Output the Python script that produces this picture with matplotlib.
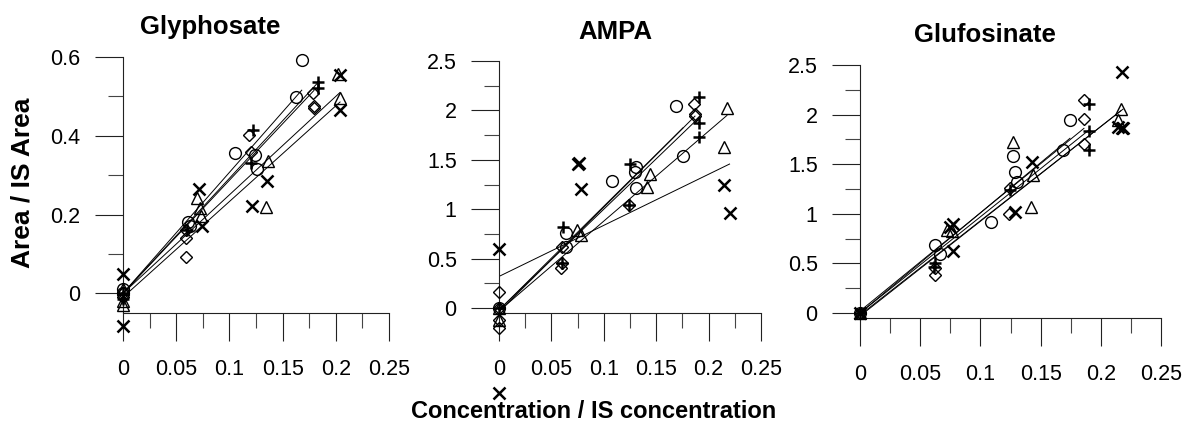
import numpy as np
import matplotlib
matplotlib.use("Agg")
import matplotlib.pyplot as plt
from matplotlib.ticker import MultipleLocator, FuncFormatter

plt.rcParams['font.family'] = ['Liberation Sans', 'DejaVu Sans']

# marker order used by every panel: circle, diamond, triangle, plus, cross
MARKERS = ['o', 'D', '^', '+', 'x']
TITLES = ['Glyphosate', 'AMPA', 'Glufosinate']

# --- Glyphosate ---
GLY_X = [
    [0, 0, 0.061, 0.063, 0.105, 0.124, 0.1257, 0.163, 0.168],
    [0, 0, 0.059, 0.059, 0.059, 0.118, 0.12, 0.179, 0.1795, 0.1795],
    [0, 0, 0, 0.0698, 0.072, 0.073, 0.1366, 0.1344, 0.2016, 0.204],
    [0, 0, 0.06, 0.1225, 0.12, 0.1836, 0.1836],
    [0, 0, 0.0717, 0.074, 0.121, 0.135, 0.204, 0.204],
]
GLY_Y = [
    [0, 0.01, 0.18, 0.17, 0.356, 0.352, 0.316, 0.498, 0.592],
    [0, -0.01, 0.162, 0.141, 0.092, 0.403, 0.36, 0.508, 0.475, 0.47],
    [-0.03, -0.02, 0.01, 0.242, 0.217, 0.196, 0.335, 0.219, 0.558, 0.495],
    [0, -0.015, 0.16, 0.415, 0.33, 0.537, 0.521],
    [0.048, -0.083, 0.265, 0.17, 0.221, 0.284, 0.554, 0.466],
]
GLY_SLOPE = [3.07, 2.87, 2.5, 2.92, 2.43]
GLY_INTERCEPT = [0.0, 0.0, 0.0, 0.0, -0.01]

# --- AMPA ---
AMPA_X = [
    [0, 0.0638, 0.064, 0.108, 0.131, 0.13, 0.1305, 0.169, 0.1756],
    [0, 0, 0, 0, 0.06, 0.06, 0.059, 0.124, 0.186, 0.187, 0.187],
    [0, 0, 0.074, 0.0778, 0.1438, 0.1413, 0.2175, 0.215],
    [0, 0.0613, 0.06, 0.1254, 0.124, 0.191, 0.191, 0.191],
    [0, 0, 0.0756, 0.0766, 0.0787, 0.215, 0.22],
]
AMPA_Y = [
    [0, 0.756, 0.62, 1.29, 1.43, 1.38, 1.21, 2.04, 1.54],
    [0.165, -0.12, -0.2, 0, 0.62, 0.46, 0.41, 1.04, 2.06, 1.96, 1.94],
    [-0.12, 0, 0.79, 0.74, 1.36, 1.23, 2.02, 1.63],
    [0, 0.82, 0.46, 1.46, 1.04, 2.14, 1.87, 1.73],
    [0.6, -0.86, 1.46, 1.47, 1.2, 1.25, 0.96],
]
AMPA_SLOPE = [10.5, 10.6, 9.1, 10.2, 5.17]
AMPA_INTERCEPT = [-0.02, -0.04, -0.03, -0.02, 0.32]

# --- Glufosinate ---
GLU_X = [
    [0, 0.0623, 0.0664, 0.1085, 0.1274, 0.1287, 0.130, 0.1689, 0.1744],
    [0, 0.0623, 0.062, 0.1246, 0.124, 0.186, 0.186, 0.186],
    [0, 0.072, 0.076, 0.1268, 0.144, 0.1418, 0.2166, 0.2145],
    [0, 0.0623, 0.0617, 0.1246, 0.1905, 0.1905, 0.1905],
    [0, 0.0775, 0.075, 0.077, 0.1426, 0.129, 0.2173, 0.2145, 0.2185, 0.2175],
]
GLU_Y = [
    [0, 0.685, 0.60, 0.92, 1.58, 1.42, 1.32, 1.64, 1.945],
    [0, 0.383, 0.45, 1.26, 1.0, 2.15, 1.96, 1.70],
    [0, 0.84, 0.83, 1.72, 1.39, 1.065, 2.06, 1.95],
    [0, 0.50, 0.46, 1.24, 2.11, 1.83, 1.64],
    [0, 0.897, 0.87, 0.628, 1.525, 1.02, 2.43, 1.88, 1.87, 1.86],
]
GLU_SLOPE = [10.1, 9.9, 9.55, 9.7, 9.5]
GLU_INTERCEPT = [0.0, 0.02, -0.03, 0.0, -0.02]

W, H = 1185, 433


def _fig_rect(left_px, right_px, top_px, bottom_px):
    """Convert pixel box to figure fraction rect"""
    return [left_px / W, 1 - bottom_px / H, (right_px - left_px) / W, (bottom_px - top_px) / H]


def _style_axis(ax, ylim, y_major, y_minor):
    """Detached-looking axes with long outward ticks"""
    ax.set_xlim(0, 0.25)
    ax.set_ylim(*ylim)
    for side in ['top', 'right']:
        ax.spines[side].set_visible(False)
    for side in ['left', 'bottom']:
        ax.spines[side].set_linewidth(0.8)
        ax.spines[side].set_color('#222222')
    ax.xaxis.set_major_locator(MultipleLocator(0.05))
    ax.xaxis.set_minor_locator(MultipleLocator(0.025))
    ax.yaxis.set_major_locator(MultipleLocator(y_major))
    ax.yaxis.set_minor_locator(MultipleLocator(y_minor))
    fmt = FuncFormatter(lambda v, pos: f"{v:g}")
    ax.xaxis.set_major_formatter(fmt)
    ax.yaxis.set_major_formatter(fmt)
    ax.tick_params(which='major', direction='out', length=20, width=0.8, color='#222222', labelsize=15.5)
    ax.tick_params(which='minor', direction='out', length=11, width=0.8, color='#444444')
    ax.tick_params(axis='x', which='major', pad=13)
    ax.tick_params(axis='y', which='major', pad=10.5)


def _plot_panel(ax, xs, ys, slopes, intercepts):
    """Scatter every series and its calibration line"""
    for marker, x, y, b, a in zip(MARKERS, xs, ys, slopes, intercepts):
        x = np.asarray(x)
        y = np.asarray(y)
        thick = marker in ('+', 'x')
        size = {'o': 8.5, 'D': 6, '^': 8.5, '+': 9, 'x': 8}[marker]
        ax.plot(x, y, linestyle='none', marker=marker, markersize=size,
                markerfacecolor='none', markeredgecolor='black',
                markeredgewidth=1.8 if thick else 1.0, clip_on=False, zorder=3)
        xl = np.array([0, x.max()])
        ax.plot(xl, a + b * xl, color='black', linewidth=0.7, zorder=2)


fig = plt.figure(figsize=(W / 100, H / 100), dpi=100)

ax1 = fig.add_axes(_fig_rect(123, 389, 57, 313))
ax2 = fig.add_axes(_fig_rect(499, 761, 61, 313))
ax3 = fig.add_axes(_fig_rect(860, 1161, 65, 318))

_style_axis(ax1, (-0.05, 0.6), 0.2, 0.1)
_style_axis(ax2, (-0.05, 2.5), 0.5, 0.25)
_style_axis(ax3, (-0.05, 2.5), 0.5, 0.25)

_plot_panel(ax1, GLY_X, GLY_Y, GLY_SLOPE, GLY_INTERCEPT)
_plot_panel(ax2, AMPA_X, AMPA_Y, AMPA_SLOPE, AMPA_INTERCEPT)
_plot_panel(ax3, GLU_X, GLU_Y, GLU_SLOPE, GLU_INTERCEPT)

# titles sit left of each axes centre, as in the original layout
for title, (cx, cy) in zip(TITLES, [(210, 27), (615, 32), (985, 35)]):
    fig.text(cx / W, 1 - cy / H, title, ha='center', va='center',
             fontsize=18.5, fontweight='bold')

fig.text(23 / W, 1 - 183 / H, 'Area / IS Area', rotation=90, ha='center', va='center',
         fontsize=19, fontweight='bold')
fig.text(594 / W, 1 - 412 / H, 'Concentration / IS concentration', ha='center', va='center',
         fontsize=17, fontweight='bold')

fig.savefig('out.png', dpi=100)
